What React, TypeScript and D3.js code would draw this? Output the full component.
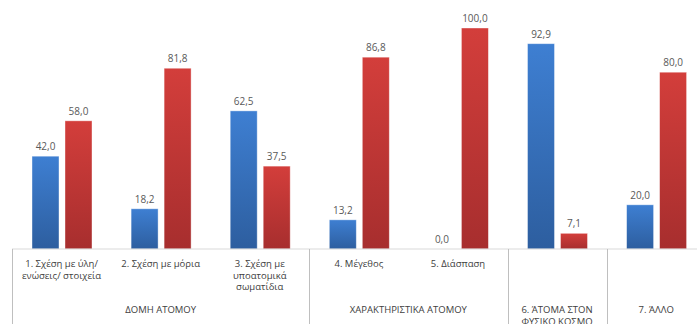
import React from 'react'
import * as d3 from 'd3'

const categories = [
  ['1. Σχέση με ύλη/', 'ενώσεις/ στοιχεία'],
  ['2. Σχέση με μόρια'],
  ['3. Σχέση με', 'υποατομικά', 'σωματίδια'],
  ['4. Μέγεθος'],
  ['5. Διάσπαση'],
  [],
  []
]
const catKeys = ['c1', 'c2', 'c3', 'c4', 'c5', 'c6', 'c7']
const blueValues = [42.0, 18.2, 62.5, 13.2, 0.0, 92.9, 20.0]
const redValues = [58.0, 81.8, 37.5, 86.8, 100.0, 7.1, 80.0]
const groups = [
  { lines: ['ΔΟΜΗ ΑΤΟΜΟΥ'], from: 0, to: 2 },
  { lines: ['ΧΑΡΑΚΤΗΡΙΣΤΙΚΑ ΑΤΟΜΟΥ'], from: 3, to: 4 },
  { lines: ['6. ΆΤΟΜΑ ΣΤΟΝ', 'ΦΥΣΙΚΟ ΚΟΣΜΟ'], from: 5, to: 5 },
  { lines: ['7. ΆΛΛΟ'], from: 6, to: 6 }
]

const W = 697
const H = 324
const left = 12
const step = 99.1
const baseY = 249
const font = "'Open Sans', sans-serif"

export default function App() {
  const x = d3.scaleBand<string>().domain(catKeys).range([left, left + step * 7])
  const inner = d3.scaleBand<string>().domain(['blue', 'red']).range([20, 80]).paddingInner(0.1818)
  const y = d3.scaleLinear().domain([0, 100]).range([baseY, 28])

  const fmt = (v: number) => d3.format('.1f')(v).replace('.', ',')

  const series = [
    { key: 'blue', values: blueValues, fill: 'url(#gBlue)' },
    { key: 'red', values: redValues, fill: 'url(#gRed)' }
  ]

  const dividers = [left, ...groups.slice(1).map(g => x(catKeys[g.from])!)]

  return (
    <div style={{ position: 'fixed', left: 0, top: 0 }}>
      <svg width={W} height={H} style={{ display: 'block', background: '#fff' }}>
        <defs>
          <linearGradient id="gBlue" x1="0" y1="0" x2="0" y2="1">
            <stop offset="0%" stopColor="#3e7fd2" />
            <stop offset="100%" stopColor="#2d5e9f" />
          </linearGradient>
          <linearGradient id="gRed" x1="0" y1="0" x2="0" y2="1">
            <stop offset="0%" stopColor="#d33e3b" />
            <stop offset="100%" stopColor="#a72e2e" />
          </linearGradient>
        </defs>

        {series.map(s =>
          s.values.map((v, i) => {
            const bx = x(catKeys[i])! + inner(s.key)!
            const top = y(v)
            return (
              <g key={s.key + i}>
                {v > 0 && (
                  <rect x={bx} y={top} width={inner.bandwidth()} height={baseY - top}
                    fill={s.fill} stroke="#ffffff" strokeOpacity={0.5} strokeWidth={0.8} />
                )}
                <text x={bx + inner.bandwidth() / 2} y={top - 6} textAnchor="middle"
                  fontFamily={font} fontSize={10} fill="#595959">{fmt(v)}</text>
              </g>
            )
          })
        )}

        <line x1={left} x2={W} y1={baseY} y2={baseY} stroke="#d9d9d9" strokeWidth={1} />
        {dividers.map((dx, i) => (
          <line key={i} x1={Math.round(dx) + 0.5} x2={Math.round(dx) + 0.5} y1={baseY} y2={H}
            stroke="#bfbfbf" strokeWidth={1} />
        ))}

        {categories.map((lines, i) =>
          lines.map((t, j) => (
            <text key={i + '-' + j} x={x(catKeys[i])! + step / 2} y={267 + j * 11.5}
              textAnchor="middle" fontFamily={font} fontSize={9.5} fill="#404040">{t}</text>
          ))
        )}

        {groups.map((g, i) => {
          const cx = (x(catKeys[g.from])! + x(catKeys[g.to])! + step) / 2
          return g.lines.map((t, j) => (
            <text key={i + '-' + j} x={cx} y={313 + j * 12} textAnchor="middle"
              fontFamily={font} fontSize={9.5} fill="#404040">{t}</text>
          ))
        })}
      </svg>
    </div>
  )
}
